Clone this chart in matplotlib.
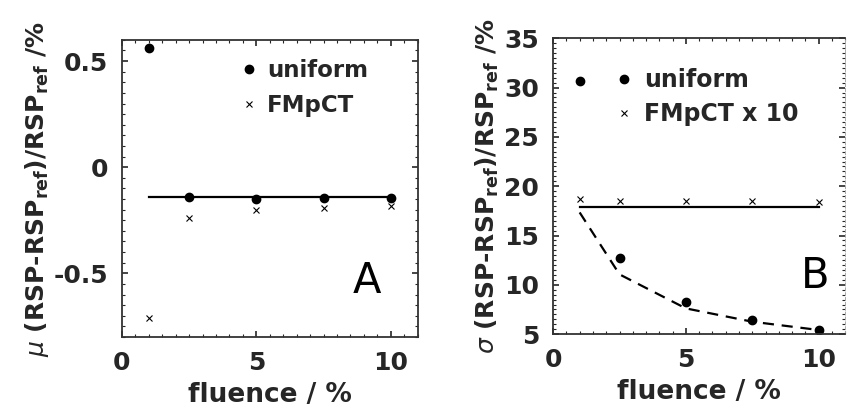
import numpy as np
import matplotlib.pyplot as plt
from matplotlib.ticker import MultipleLocator

# data
fluence = [1, 2.5, 5, 7.5, 10]

# panel A: mean deviation
mean_uniform = [0.562, -0.141, -0.152, -0.145, -0.145]
mean_fmpct = [-0.71, -0.24, -0.20, -0.19, -0.184]
mean_line = [-0.141, -0.141, -0.141, -0.141, -0.141]

# panel B: std deviation
std_uniform = [30.7, 12.74, 8.22, 6.43, 5.42]
std_fmpct_x10 = [18.69, 18.52, 18.45, 18.45, 18.38]
std_line = [17.88, 17.88, 17.88, 17.88, 17.88]
std_fit = [17.34, 11.06, 7.61, 6.26, 5.42]

txt = '#262626'
plt.rcParams['font.family'] = 'DejaVu Sans'
plt.rcParams['text.color'] = txt
plt.rcParams['axes.labelcolor'] = txt
plt.rcParams['xtick.color'] = txt
plt.rcParams['ytick.color'] = txt

fig = plt.figure(figsize=(8.47, 4.07), dpi=100)
axA = fig.add_axes([0.144, 0.172, 0.349, 0.730])
axB = fig.add_axes([0.653, 0.179, 0.345, 0.727])


def style(ax):
    for s in ax.spines.values():
        s.set_color('#333333')
        s.set_linewidth(1.3)
    ax.tick_params(which='both', direction='in', top=True, right=True,
                   labelsize=18, pad=10)
    ax.tick_params(which='major', length=4, width=1.2)
    ax.tick_params(which='minor', length=2, width=0.8)
    for lab in ax.get_xticklabels() + ax.get_yticklabels():
        lab.set_fontweight('bold')
    ax.set_xlabel('fluence / %', fontsize=19, fontweight='bold', labelpad=5)


# ---- panel A
axA.plot(fluence, mean_line, color='black', lw=1.6)
axA.plot(fluence, mean_uniform, 'o', color='black', ms=6, label='uniform')
axA.plot(fluence, mean_fmpct, 'x', color='black', ms=4, mew=0.8, label='FMpCT')
axA.set_xlim(0, 11)
axA.set_ylim(-0.8, 0.6)
axA.set_xticks([0, 5, 10])
axA.set_yticks([-0.5, 0, 0.5])
axA.set_yticklabels(['-0.5', '0', '0.5'])
axA.xaxis.set_minor_locator(MultipleLocator(0.5))
axA.yaxis.set_minor_locator(MultipleLocator(0.05))
style(axA)
axA.set_ylabel(r'$\mu$ (RSP-RSP$_{\mathbf{ref}}$)/RSP$_{\mathbf{ref}}$ /%',
               fontsize=18, fontweight='bold', labelpad=2)
axA.legend(loc='upper left', bbox_to_anchor=(0.36, 0.975), frameon=False,
           handlelength=0.8, handletextpad=0.4, labelspacing=0.55,
           borderpad=0, prop={'weight': 'bold', 'size': 16.5})
axA.text(0.83, 0.148, 'A', transform=axA.transAxes, fontsize=30,
         ha='center', va='baseline', color='black')

# ---- panel B
axB.plot(fluence, std_line, color='black', lw=1.6)
axB.plot(fluence, std_fit, '--', color='black', lw=1.6, dashes=(5, 3.5))
axB.plot(fluence, std_uniform, 'o', color='black', ms=6, label='uniform')
axB.plot(fluence, std_fmpct_x10, 'x', color='black', ms=4, mew=0.8,
         label='FMpCT x 10')
axB.set_xlim(0, 11)
axB.set_ylim(5, 35)
axB.set_xticks([0, 5, 10])
axB.set_yticks([5, 10, 15, 20, 25, 30, 35])
axB.xaxis.set_minor_locator(MultipleLocator(0.5))
axB.yaxis.set_minor_locator(MultipleLocator(0.5))
style(axB)
axB.spines['right'].set_linestyle((0, (3, 2)))
axB.spines['right'].set_color('#aaaaaa')
axB.spines['right'].set_linewidth(0.7)
axB.set_ylabel(r'$\sigma$ (RSP-RSP$_{\mathbf{ref}}$)/RSP$_{\mathbf{ref}}$ /%',
               fontsize=18, fontweight='bold', labelpad=2)
axB.legend(loc='upper left', bbox_to_anchor=(0.17, 0.94), frameon=False,
           handlelength=0.8, handletextpad=0.45, labelspacing=0.45,
           borderpad=0, prop={'weight': 'bold', 'size': 17})
axB.text(0.897, 0.155, 'B', transform=axB.transAxes, fontsize=30,
         ha='center', va='baseline', color='black')

fig.savefig('out.png', dpi=100, facecolor='white')
